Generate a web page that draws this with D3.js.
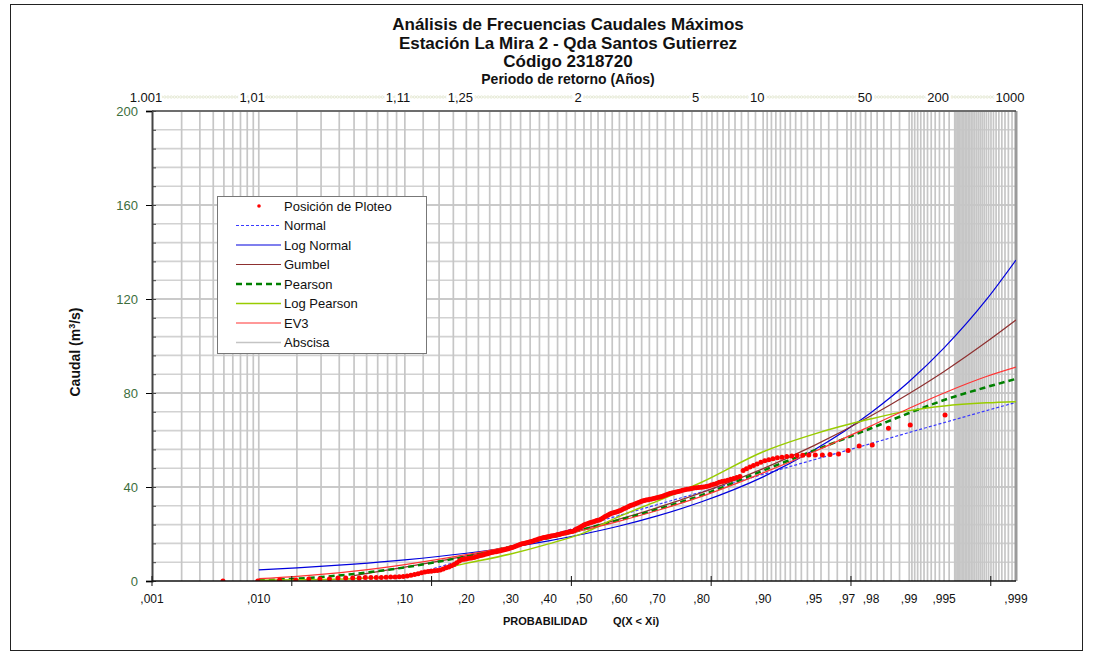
<!DOCTYPE html>
<html>
<head>
<meta charset="utf-8">
<script src="https://cdn.jsdelivr.net/npm/d3@7"></script>
<style>
  body { margin: 0; background: #fff; }
  svg text { font-family: "Liberation Sans", Arial, sans-serif; }
</style>
</head>
<body>
<svg id="chart" width="1093" height="660"></svg>
<script>
// probabilities where the fitted curves were read
var probCurve = [0.01, 0.02, 0.05, 0.1, 0.2, 0.3, 0.4, 0.5, 0.6, 0.7, 0.8, 0.9, 0.95, 0.98, 0.99, 0.995, 0.998, 0.999];

var normal     = [null, null, null, 1.8, 9.3, 14.7, 19.3, 23.6, 27.9, 32.5, 37.9, 45.4, 51.6, 58.5, 63.2, 67.4, 72.5, 76.0];
var logNormal  = [4.7, 5.6, 7.2, 9.0, 11.8, 14.4, 17.1, 20.0, 23.4, 27.7, 33.7, 44.3, 55.7, 71.7, 84.9, 99.2, 119.7, 136.6];
var gumbel     = [null, null, 2.3, 5.9, 10.7, 14.7, 18.4, 22.2, 26.3, 31.2, 37.6, 47.8, 57.6, 70.3, 79.8, 89.2, 101.7, 111.1];
var pearson    = [0.3, 1.0, 3.0, 5.8, 10.5, 14.6, 18.3, 22.0, 26.0, 30.5, 36.5, 47.0, 55.5, 65.0, 71.5, 77.0, 82.5, 86.0];
var logPearson = [0.3, 0.5, 1.0, 2.2, 7.5, 11.5, 15.8, 20.5, 27.5, 34.0, 42.0, 55.0, 62.5, 69.0, 72.5, 74.5, 75.8, 76.3];
var ev3        = [1.0, 2.0, 4.2, 7.0, 11.2, 14.8, 18.2, 21.7, 25.5, 30.0, 36.0, 46.0, 55.0, 66.0, 73.5, 80.0, 87.0, 91.0];

// observed maxima sorted ascending (plotted at Weibull position m/(n+1))
var caudalObs = [
  0, 0, 0.4, 0.4, 0.9, 0.9, 0.9, 1.3, 1.3, 1.3,
  1.3, 1.5, 1.5, 1.5, 1.5, 1.6, 1.7, 1.7, 1.8, 1.9,
  2.1, 2.4, 2.8, 3.1, 3.5, 3.8, 4.0, 4.2, 4.4, 4.5,
  4.7, 5.1, 5.6, 6.0, 6.5, 7.0, 7.8, 8.5, 9.1, 9.3,
  9.5, 9.7, 9.8, 10.0, 10.3, 10.6, 10.9, 11.1, 11.4, 11.6,
  11.9, 12.1, 12.3, 12.5, 12.7, 12.9, 13.1, 13.3, 13.5, 13.7,
  14.0, 14.3, 14.6, 14.9, 15.2, 15.5, 15.8, 16.0, 16.2, 16.4,
  16.6, 16.8, 17.0, 17.3, 17.6, 17.9, 18.1, 18.3, 18.5, 18.6,
  18.8, 18.9, 19.1, 19.3, 19.4, 19.6, 19.8, 19.9, 20.1, 20.3,
  20.4, 20.6, 20.8, 21.0, 21.1, 21.3, 21.8, 22.2, 22.6, 23.0,
  23.4, 23.8, 24.1, 24.4, 24.7, 24.9, 25.1, 25.3, 25.6, 25.8,
  26.0, 26.4, 26.8, 27.3, 27.7, 28.1, 28.5, 28.8, 29.0, 29.3,
  29.5, 29.8, 30.0, 30.4, 30.8, 31.1, 31.5, 31.9, 32.2, 32.5,
  32.8, 33.1, 33.4, 33.7, 34.0, 34.3, 34.5, 34.6, 34.8, 34.9,
  35.1, 35.3, 35.5, 35.7, 36.0, 36.3, 36.6, 36.9, 37.2, 37.5,
  37.7, 37.9, 38.1, 38.3, 38.6, 38.8, 39.0, 39.2, 39.4, 39.6,
  39.7, 39.8, 39.9, 40.0, 40.2, 40.4, 40.8, 41.2, 41.5, 42.0,
  42.3, 42.6, 42.9, 43.3, 43.6, 44.0, 44.5, 47.0, 47.8, 48.5,
  49.2, 49.8, 50.5, 51.2, 51.6, 52.0, 52.4, 52.7, 53.0, 53.2,
  53.4, 53.5, 53.6, 53.6, 53.6, 53.8, 54.0, 55.5, 57.4, 57.9,
  65.0, 66.4, 70.6
];

var probTicks  = [0.001, 0.01, 0.1, 0.2, 0.3, 0.4, 0.5, 0.6, 0.7, 0.8, 0.9, 0.95, 0.97, 0.98, 0.99, 0.995, 0.999];
var probLabels = [",001", ",010", ",10", ",20", ",30", ",40", ",50", ",60", ",70", ",80", ",90", ",95", ",97", ",98", ",99", ",995", ",999"];
var periodTicks  = [0.001, 0.0099, 0.099, 0.2, 0.5, 0.8, 0.9, 0.98, 0.995, 0.999];
var periodLabels = ["1.001", "1,01", "1,11", "1,25", "2", "5", "10", "50", "200", "1000"];
var caudalTicks = [0, 40, 80, 120, 160, 200];

// inverse standard normal (Acklam)
function qnorm(p) {
  var a = [-39.69683028665376, 220.9460984245205, -275.9285104469687, 138.3577518672690, -30.66479806614716, 2.506628277459239];
  var b = [-54.47609879822406, 161.5858368580409, -155.6989798598866, 66.80131188771972, -13.28068155288572];
  var c = [-0.007784894002430293, -0.3223964580411365, -2.400758277161838, -2.549732539343734, 4.374664141464968, 2.938163982698783];
  var d = [0.007784695709041462, 0.3224671290700398, 2.445134137142996, 3.754408661907416];
  var q, r;
  if (p < 0.02425) {
    q = Math.sqrt(-2 * Math.log(p));
    return (((((c[0]*q+c[1])*q+c[2])*q+c[3])*q+c[4])*q+c[5]) / ((((d[0]*q+d[1])*q+d[2])*q+d[3])*q+1);
  }
  if (p <= 1 - 0.02425) {
    q = p - 0.5; r = q * q;
    return (((((a[0]*r+a[1])*r+a[2])*r+a[3])*r+a[4])*r+a[5])*q / (((((b[0]*r+b[1])*r+b[2])*r+b[3])*r+b[4])*r+1);
  }
  q = Math.sqrt(-2 * Math.log(1 - p));
  return -(((((c[0]*q+c[1])*q+c[2])*q+c[3])*q+c[4])*q+c[5]) / ((((d[0]*q+d[1])*q+d[2])*q+d[3])*q+1);
}

var L = 152, R = 1016, T = 111, B = 581;
var svg = d3.select("#chart");

var zScale = d3.scaleLinear().domain([qnorm(0.001), qnorm(0.999)]).range([L, R]);
var x = function (p) { return zScale(qnorm(p)); };
var y = d3.scaleLinear().domain([0, 200]).range([B, T]);

// outer frame
svg.append("rect").attr("x", 10.5).attr("y", 4.5).attr("width", 1072).attr("height", 646)
  .attr("fill", "none").attr("stroke", "#222").attr("stroke-width", 1);

svg.append("defs").append("clipPath").attr("id", "plotClip")
  .append("rect").attr("x", L).attr("y", T).attr("width", R - L).attr("height", B - T);

// horizontal grid
svg.append("g").selectAll("line").data(d3.range(8, 201, 8)).enter().append("line")
  .attr("x1", L).attr("x2", R)
  .attr("y1", function (d) { return y(d); }).attr("y2", function (d) { return y(d); })
  .attr("stroke", function (d) { return d % 40 === 0 ? "#b8b8b8" : "#d2d2d2"; })
  .attr("stroke-width", 1.6);

// vertical grid (abscisa)
var gridP = [].concat(
  d3.range(2, 10).map(function (i) { return i / 1000; }),
  d3.range(1, 10).map(function (i) { return i / 100; }),
  d3.range(100, 500, 25).map(function (i) { return i / 1000; }),
  d3.range(50, 80, 2).map(function (i) { return i / 100; }),
  d3.range(80, 90, 1).map(function (i) { return i / 100; }),
  d3.range(900, 970, 5).map(function (i) { return i / 1000; }),
  d3.range(970, 990, 2).map(function (i) { return i / 1000; }),
  d3.range(9900, 9960, 5).map(function (i) { return i / 10000; }),
  d3.range(9960, 9990, 1).map(function (i) { return i / 10000; })
);
svg.append("g").selectAll("line").data(gridP).enter().append("line")
  .attr("x1", function (d) { return x(d); }).attr("x2", function (d) { return x(d); })
  .attr("y1", T).attr("y2", B)
  .attr("stroke", "#c6c6c6").attr("stroke-width", 1.7);

// right border
svg.append("line").attr("x1", R).attr("x2", R).attr("y1", T).attr("y2", B)
  .attr("stroke", "#9a9a9a").attr("stroke-width", 3);
// top border
svg.append("line").attr("x1", L).attr("x2", R).attr("y1", T).attr("y2", T)
  .attr("stroke", "#111").attr("stroke-width", 1.2);

// curves
var series = [
  { name: "Normal", vals: normal, color: "#3a3aff", width: 1.2, dash: "3,2" },
  { name: "Log Normal", vals: logNormal, color: "#0000dd", width: 1.2, dash: null },
  { name: "Gumbel", vals: gumbel, color: "#8e3030", width: 1.2, dash: null },
  { name: "Pearson", vals: pearson, color: "#008000", width: 2.5, dash: "6,4" },
  { name: "Log Pearson", vals: logPearson, color: "#99cc00", width: 1.5, dash: null },
  { name: "EV3", vals: ev3, color: "#ff3333", width: 1.2, dash: null }
];

var line = d3.line()
  .defined(function (d) { return d[1] !== null; })
  .x(function (d) { return x(d[0]); })
  .y(function (d) { return y(d[1]); })
  .curve(d3.curveMonotoneX);

var curves = svg.append("g").attr("clip-path", "url(#plotClip)");
series.forEach(function (s) {
  var pts = probCurve.map(function (p, i) { return [p, s.vals[i]]; });
  curves.append("path").attr("d", line(pts))
    .attr("fill", "none").attr("stroke", s.color)
    .attr("stroke-width", s.width)
    .attr("stroke-dasharray", s.dash);
});

// plotting positions
var n = caudalObs.length;
curves.selectAll(".obs").data(caudalObs).enter().append("circle")
  .attr("class", "obs")
  .attr("cx", function (d, i) { return x((i + 1) / (n + 1)); })
  .attr("cy", function (d) { return y(d); })
  .attr("r", 2.5)
  .attr("fill", "#ff0000");

// y axis
var yAxis = svg.append("g").attr("transform", "translate(" + L + ",0)")
  .call(d3.axisLeft(y).tickValues(caudalTicks).tickSize(6).tickFormat(d3.format("d")));
yAxis.select(".domain").attr("stroke", "#444").attr("stroke-width", 2);
yAxis.selectAll("text").attr("fill", "#3c6e3c").attr("font-size", 13).attr("x", -14);
svg.append("g").attr("transform", "translate(" + L + ",0)")
  .call(d3.axisRight(y).tickValues(d3.range(0, 201, 8)).tickSize(4).tickFormat(""))
  .call(function (g) { g.select(".domain").remove(); g.selectAll("line").attr("stroke", "#444"); });

// bottom axis
svg.append("line").attr("x1", L).attr("x2", R).attr("y1", B).attr("y2", B)
  .attr("stroke", "#111").attr("stroke-width", 1.5);
var z0 = zScale.domain()[0];
svg.append("g").selectAll("line").data(d3.range(0, 7)).enter().append("line")
  .attr("x1", function (k) { return zScale(z0 + k); }).attr("x2", function (k) { return zScale(z0 + k); })
  .attr("y1", B - 5).attr("y2", B + 5)
  .attr("stroke", "#111").attr("stroke-width", 1);

svg.append("g").selectAll("text").data(probTicks).enter().append("text")
  .attr("x", function (d) { return x(d); })
  .attr("y", 603)
  .attr("text-anchor", "middle")
  .attr("font-size", 12).attr("fill", "#111")
  .text(function (d, i) { return probLabels[i]; });

svg.append("text").attr("x", 503).attr("y", 625).attr("font-size", 11).attr("font-weight", "bold")
  .attr("fill", "#111").text("PROBABILIDAD");
svg.append("text").attr("x", 613).attr("y", 625).attr("font-size", 11).attr("font-weight", "bold")
  .attr("fill", "#111").text("Q(X < Xi)");

// return-period row (top)
svg.append("g").selectAll("circle").data(d3.range(L, R, 3.2)).enter().append("circle")
  .attr("cx", function (d) { return d; }).attr("cy", 97).attr("r", 1.2)
  .attr("fill", "#fff").attr("stroke", "#e0e4cc").attr("stroke-width", 0.8);
svg.append("g").selectAll("text").data(periodTicks).enter().append("text")
  .attr("x", function (d) { return x(d) - 6; })
  .attr("y", 102)
  .attr("text-anchor", "middle")
  .attr("font-size", 13).attr("fill", "#111")
  .attr("stroke", "#fff").attr("stroke-width", 5).attr("paint-order", "stroke")
  .text(function (d, i) { return periodLabels[i]; });

// titles
var titles = [
  { t: "Análisis de Frecuencias Caudales Máximos", y: 30, s: 17 },
  { t: "Estación La Mira 2 - Qda Santos Gutierrez", y: 49, s: 17 },
  { t: "Código 2318720", y: 67, s: 17 },
  { t: "Periodo de retorno (Años)", y: 84, s: 14 }
];
svg.append("g").selectAll("text").data(titles).enter().append("text")
  .attr("x", 568).attr("y", function (d) { return d.y; })
  .attr("text-anchor", "middle").attr("font-weight", "bold")
  .attr("font-size", function (d) { return d.s; }).attr("fill", "#111")
  .text(function (d) { return d.t; });

var yt = svg.append("text").attr("transform", "translate(80,352) rotate(-90)")
  .attr("text-anchor", "middle").attr("font-weight", "bold").attr("font-size", 14).attr("fill", "#111");
yt.append("tspan").text("Caudal (m");
yt.append("tspan").attr("dy", -5).attr("font-size", 9).text("3");
yt.append("tspan").attr("dy", 5).text("/s)");

// legend
var lg = svg.append("g");
lg.append("rect").attr("x", 217.5).attr("y", 196.5).attr("width", 209).attr("height", 157)
  .attr("fill", "#fff").attr("stroke", "#777").attr("stroke-width", 1);
var legendItems = [{ name: "Posición de Ploteo", dot: true }].concat(series)
  .concat([{ name: "Abscisa", color: "#c4c4c4", width: 1.5, dash: null }]);
legendItems.forEach(function (s, i) {
  var ly = 206 + i * 19.5;
  if (s.dot) {
    lg.append("circle").attr("cx", 259).attr("cy", ly).attr("r", 1.8).attr("fill", "#ff0000");
  } else {
    lg.append("line").attr("x1", 236).attr("x2", 281).attr("y1", ly).attr("y2", ly)
      .attr("stroke", s.color).attr("stroke-width", s.width).attr("stroke-dasharray", s.dash);
  }
  lg.append("text").attr("x", 284).attr("y", ly + 4.5).attr("font-size", 13).attr("fill", "#111")
    .text(s.name);
});
</script>
</body>
</html>
